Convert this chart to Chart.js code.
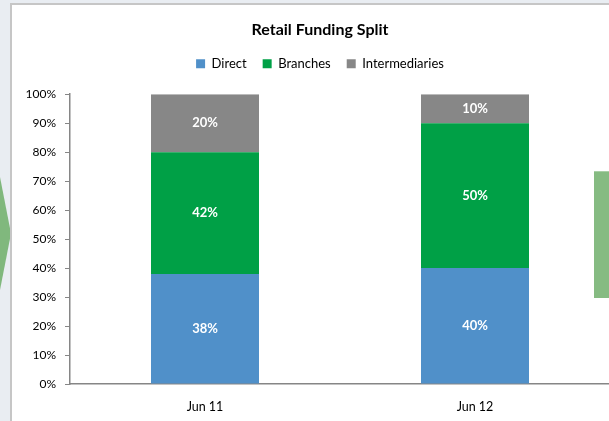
<!DOCTYPE html>
<html>
<head>
<meta charset="utf-8">
<script src="https://cdn.jsdelivr.net/npm/chart.js@4.4.0/dist/chart.umd.min.js"></script>
<style>
  body { margin: 0; background: #e9edf2; overflow: hidden; width: 609px; height: 421px; position: relative; }
  #panel { position: absolute; left: 10px; top: 3px; width: 660px; height: 440px; background: #fff;
           border-left: 2px solid #c6c6c6; border-top: 2px solid #c6c6c6; }
  #chart { position: absolute; left: 0; top: 0; }
  #arrow { position: absolute; left: 0; top: 177px; width: 11px; height: 113px; background: #80b87d;
           clip-path: polygon(0 0, 100% 50%, 0 100%); }
  #box { position: absolute; left: 594px; top: 171px; width: 20px; height: 126px; background: #86bb82;
         border-top: 1px solid #a9cfa6; }
</style>
</head>
<body>
<div id="arrow"></div>
<div id="panel"><canvas id="chart" width="616" height="416"></canvas></div>
<div id="box"></div>
<script>
// Chart data
const categories = ["Jun 11", "Jun 12"];
const direct = [38, 40];
const branches = [42, 50];
const intermediaries = [20, 10];

const FONT = "Lato, 'Open Sans', sans-serif";

// Writes the percentage inside each bar segment
const segmentLabels = {
  id: "segmentLabels",
  afterDatasetsDraw(chart) {
    const ctx = chart.ctx;
    ctx.save();
    ctx.fillStyle = "#ffffff";
    ctx.font = "bold 13px " + FONT;
    ctx.textAlign = "center";
    ctx.textBaseline = "middle";
    chart.data.datasets.forEach((ds, i) => {
      const meta = chart.getDatasetMeta(i);
      meta.data.forEach((bar, j) => {
        const y = (bar.y + bar.base) / 2;
        ctx.fillText(ds.data[j] + "%", bar.x, y);
      });
    });
    ctx.restore();
  },
};

// Adds space below the legend, and nudges title + legend a bit to the right
const legendGap = {
  id: "legendGap",
  beforeInit(chart) {
    const fit = chart.legend.fit;
    chart.legend.fit = function () {
      fit.bind(chart.legend)();
      this.height += 14;
    };
  },
  afterLayout(chart) {
    [chart.titleBlock, chart.legend].forEach((b) => {
      b.left += 9;
      b.right += 9;
    });
  },
};

const axisColor = "#868686";

new Chart(document.getElementById("chart"), {
  type: "bar",
  data: {
    labels: categories,
    datasets: [
      { label: "Direct", data: direct, backgroundColor: "#5090c9" },
      { label: "Branches", data: branches, backgroundColor: "#00a046" },
      { label: "Intermediaries", data: intermediaries, backgroundColor: "#878787" },
    ],
  },
  options: {
    responsive: false,
    devicePixelRatio: 1,
    animation: false,
    layout: { padding: { left: 0, right: 18, top: 0, bottom: 0 } },
    datasets: { bar: { barPercentage: 0.4, categoryPercentage: 1 } },
    plugins: {
      title: {
        display: true,
        text: "Retail Funding Split",
        color: "#000",
        font: { family: FONT, size: 16, weight: "bold" },
        padding: { top: 15, bottom: 2 },
      },
      legend: {
        labels: {
          color: "#000",
          boxWidth: 9,
          boxHeight: 9,
          padding: 16,
          font: { family: FONT, size: 13 },
        },
      },
      tooltip: { enabled: false },
    },
    scales: {
      x: {
        stacked: true,
        grid: { display: false },
        border: { display: true, color: axisColor, width: 1.5 },
        ticks: { color: "#000", padding: 7, font: { family: FONT, size: 12.5 } },
        afterFit: (s) => { s.height = 37; },
      },
      y: {
        stacked: true,
        min: 0,
        max: 100,
        grid: { drawOnChartArea: false, drawTicks: true, tickLength: 5, color: axisColor },
        border: { display: true, color: axisColor, width: 1.5 },
        ticks: {
          stepSize: 10,
          color: "#000",
          padding: 9,
          font: { family: FONT, size: 12 },
          callback: (v) => v + "%",
        },
        afterFit: (s) => { s.width = 58; },
      },
    },
  },
  plugins: [segmentLabels, legendGap],
});
</script>
</body>
</html>
